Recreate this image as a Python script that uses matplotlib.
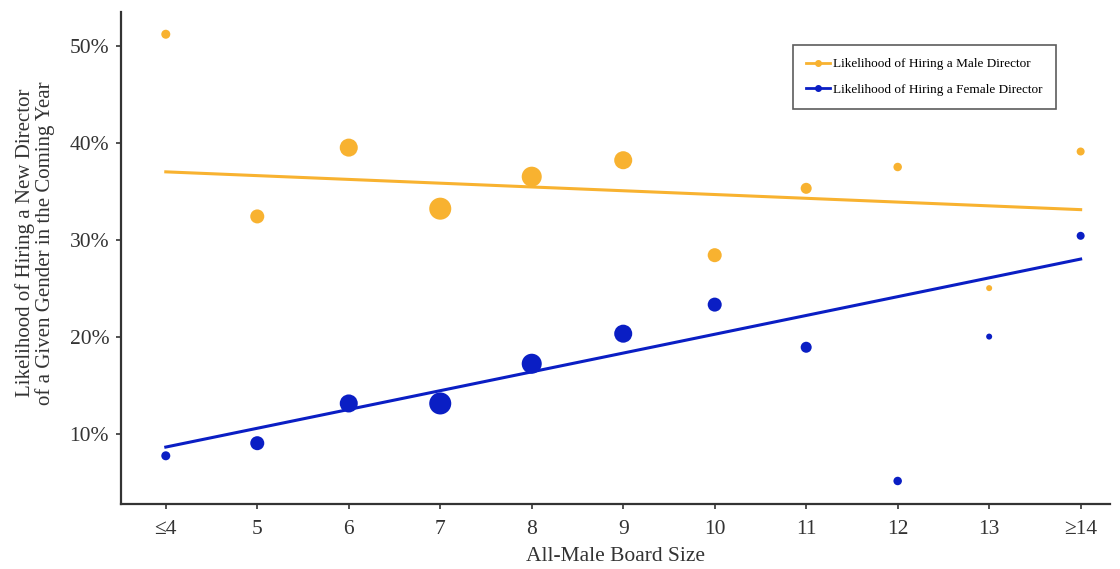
import numpy as np
import matplotlib
matplotlib.use('Agg')
import matplotlib.pyplot as plt
from matplotlib.lines import Line2D

# board size categories (x positions 4..14)
board_sizes = [4, 5, 6, 7, 8, 9, 10, 11, 12, 13, 14]
tick_labels = ['≤4', '5', '6', '7', '8', '9', '10', '11', '12', '13', '≥14']

# likelihood of hiring (%)
male_pct = [51.2, 32.4, 39.5, 33.2, 36.5, 38.2, 28.4, 35.3, 37.5, 25.0, 39.1]
female_pct = [7.7, 9.0, 13.1, 13.1, 17.2, 20.3, 23.3, 18.9, 5.1, 20.0, 30.4]

# relative number of boards at each size (drives dot size)
board_counts = [81, 196, 324, 484, 400, 324, 196, 121, 72, 36, 64]

# fitted trend lines, values at ≤4 and ≥14
trend_x = [4, 14]
male_trend = [37.0, 33.1]
female_trend = [8.6, 28.0]

orange = '#F8B230'
blue = '#0A1EC4'
grey = '#333333'

plt.rcParams['font.family'] = ['Liberation Serif', 'DejaVu Serif']

fig = plt.figure(figsize=(11.2, 5.69), dpi=100)
ax = fig.add_axes([0.108, 0.115, 0.883, 0.864])

sizes = np.array(board_counts) * 0.52

ax.scatter(board_sizes, male_pct, s=sizes, color=orange, zorder=3, linewidths=0)
ax.scatter(board_sizes, female_pct, s=sizes, color=blue, zorder=3, linewidths=0)
ax.plot(trend_x, male_trend, color=orange, lw=2.2, zorder=2)
ax.plot(trend_x, female_trend, color=blue, lw=2.2, zorder=2)

ax.set_xlim(3.51, 14.32)
ax.set_ylim(2.77, 53.5)
ax.set_xticks(board_sizes)
ax.set_xticklabels(tick_labels)
ax.set_yticks([10, 20, 30, 40, 50])
ax.set_yticklabels(['10%', '20%', '30%', '40%', '50%'])

for s in ['top', 'right']:
    ax.spines[s].set_visible(False)
for s in ['left', 'bottom']:
    ax.spines[s].set_color(grey)
    ax.spines[s].set_linewidth(1.6)

ax.tick_params(axis='both', colors=grey, labelsize=15.5, length=3.5, width=1.2, pad=5)
ax.tick_params(axis='x', pad=8)
ax.set_xlabel('All-Male Board Size', fontsize=15.5, color=grey, labelpad=6)
ax.set_ylabel('Likelihood of Hiring a New Director\nof a Given Gender in the Coming Year',
              fontsize=15, color=grey, linespacing=1.0)
ax.yaxis.set_label_coords(-0.067, 0.53)

handles = [
    Line2D([0], [0], color=orange, lw=2, marker='o', markersize=4),
    Line2D([0], [0], color=blue, lw=2, marker='o', markersize=4),
]
leg = ax.legend(handles, ['Likelihood of Hiring a Male Director',
                          'Likelihood of Hiring a Female Director'],
                loc='upper right', bbox_to_anchor=(0.945, 0.933),
                fontsize=9.5, fancybox=False, frameon=True,
                handlelength=1.8, handletextpad=0.2, borderpad=1.0,
                labelspacing=1.0, borderaxespad=0)
leg.get_frame().set_edgecolor(grey)
leg.get_frame().set_linewidth(1.2)

fig.savefig('out.png', dpi=100)
